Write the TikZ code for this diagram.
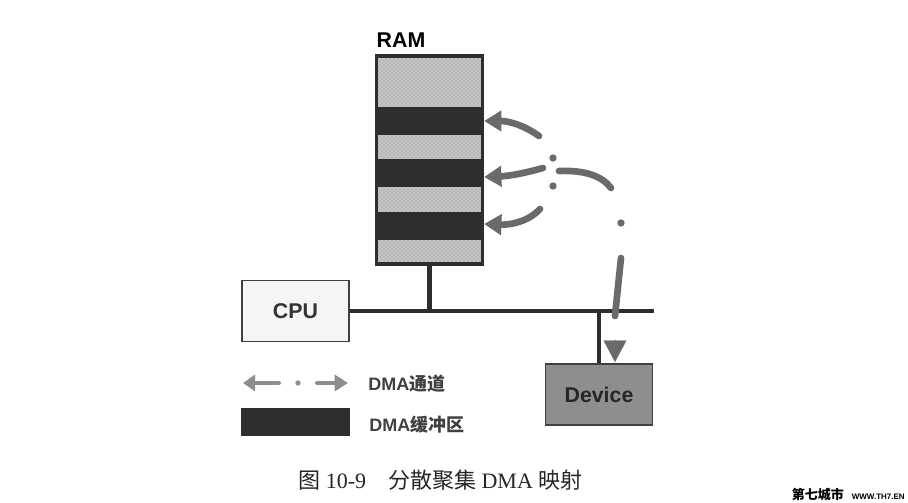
\documentclass[tikz,border=0pt]{standalone}
\usepackage{fontspec}
\setmainfont{Liberation Sans}
\newfontfamily\cjkfont{Noto Sans CJK SC}
\newfontfamily\serifcn{Liberation Serif}
\usetikzlibrary{arrows.meta,patterns}
\definecolor{ramgray}{HTML}{B8B8B8}
\definecolor{bufblack}{HTML}{2E2E2E}
\definecolor{flowgray}{HTML}{6A6A6A}
\definecolor{legendgray}{HTML}{8E8E8E}
\tikzstyle{membox} = [rectangle, draw=bufblack, line width=2.8pt, preaction={fill=ramgray}, pattern=crosshatch dots, pattern color=white!85!ramgray, minimum width=79.5pt, inner sep=0pt]
\tikzstyle{bufbox} = [rectangle, fill=bufblack, minimum width=81.5pt, inner sep=0pt]
\tikzstyle{unitbox} = [rectangle, draw=black!75, line width=1.2pt, minimum width=80pt, minimum height=46pt, inner sep=0pt, font=\fontsize{16}{16}\selectfont\bfseries, text=black!80]
\tikzstyle{bus} = [line width=3.6pt, draw=bufblack]
\tikzstyle{flow} = [line width=5pt, draw=flowgray, line cap=round]
\tikzstyle{arrow} = [flow, -{Triangle[length=13pt,width=15pt]}]
\tikzstyle{dot} = [circle, fill=flowgray, minimum size=5.5pt, inner sep=0pt]
\tikzstyle{legend} = [anchor=west, inner sep=0pt, font=\fontsize{13.5}{14}\selectfont\bfseries, text=black!75]
\begin{document}
\begin{tikzpicture}[x=0.75pt,y=-0.75pt]
        \useasboundingbox (0,0) rectangle (908,503);
        % RAM
        \node (ram) [membox, minimum height=156pt] at (429.5,160) {};
        \node (buf1) [bufbox, minimum height=21pt] at (429.5,121) {};
        \node (buf2) [bufbox, minimum height=21pt] at (429.5,173.5) {};
        \node (buf3) [bufbox, minimum height=21pt] at (429.5,226) {};
        \node (ramlabel) [inner sep=0pt, font=\fontsize{16}{16}\selectfont\bfseries] at (401,40) {RAM};
        % CPU, Device
        \node (cpu) [unitbox, fill=black!4] at (295.5,311) {CPU};
        \node (device) [unitbox, fill=legendgray, text=black!85] at (599,394.5) {Device};
        \coordinate (busend) at (654,311);
        \draw [bus] (cpu.east) -- (busend);
        \draw [bus] (ram.south) -- (ram.south |- busend);
        \draw [bus] (device.north) -- (device.north |- busend);
        % DMA path
        \coordinate (from1) at (539,136);
        \coordinate (from2) at (543,168);
        \coordinate (from3) at (540,209);
        \coordinate (archead) at (559,171);
        \coordinate (arctail) at (611,188);
        \coordinate (drop) at (621,258);
        \coordinate (dropend) at (615,316);
        \coordinate (tiptop) at (615,340);
        \coordinate (devicetip) at (615,362);
        \draw [arrow] (from1) .. controls (525,126) and (510,121) .. (buf1.east);
        \draw [arrow] (from2) .. controls (525,173) and (510,176) .. (buf2.east |- 0,177);
        \draw [arrow] (from3) .. controls (528,222) and (510,225) .. (buf3.east |- 0,224);
        \draw [flow] (archead) .. controls (585,170) and (602,176) .. (arctail);
        \draw [flow] (drop) -- (dropend);
        \node (dot1) [dot] at (553,158) {};
        \node (dot2) [dot] at (553,186) {};
        \node (dot3) [dot] at (621,223) {};
        \draw [-{Triangle[length=16pt,width=17pt]}, line width=0.1pt, flowgray] (tiptop) -- (devicetip);
        % legend
        \coordinate (legl) at (243,383);
        \coordinate (leglend) at (279,383);
        \coordinate (legr) at (317,383);
        \coordinate (legrend) at (348,383);
        \draw [-{Triangle[length=9pt,width=12pt]}, line width=3pt, legendgray, line cap=round] (leglend) -- (legl);
        \node (legdot) [circle, fill=legendgray, minimum size=4pt, inner sep=0pt] at (298,383) {};
        \draw [-{Triangle[length=10pt,width=12pt]}, line width=3pt, legendgray, line cap=round] (legr) -- (legrend);
        \node (legtext1) [legend] at (368,384) {DMA{\cjkfont 通道}};
        \node (legbuf) [bufbox, minimum height=21pt] at (295.5,422) {};
        \node (legtext2) [legend] at (369,425) {DMA{\cjkfont 缓冲区}};
        % caption
        \node (caption) [anchor=west, inner sep=0pt, font=\fontsize{16.5}{17}\selectfont\serifcn, text=black!85] at (298,480) {{\cjkfont 图} 10-9\hspace{1em}{\cjkfont 分散聚集} DMA {\cjkfont 映射}};
        \node (mark) [anchor=east, inner sep=0pt, font=\fontsize{6}{6}\selectfont\bfseries] at (905,495) {{\fontsize{9.75}{10}\selectfont\cjkfont 第七城市}\hspace{1em}WWW.TH7.EN};
    \end{tikzpicture}
\end{document}
